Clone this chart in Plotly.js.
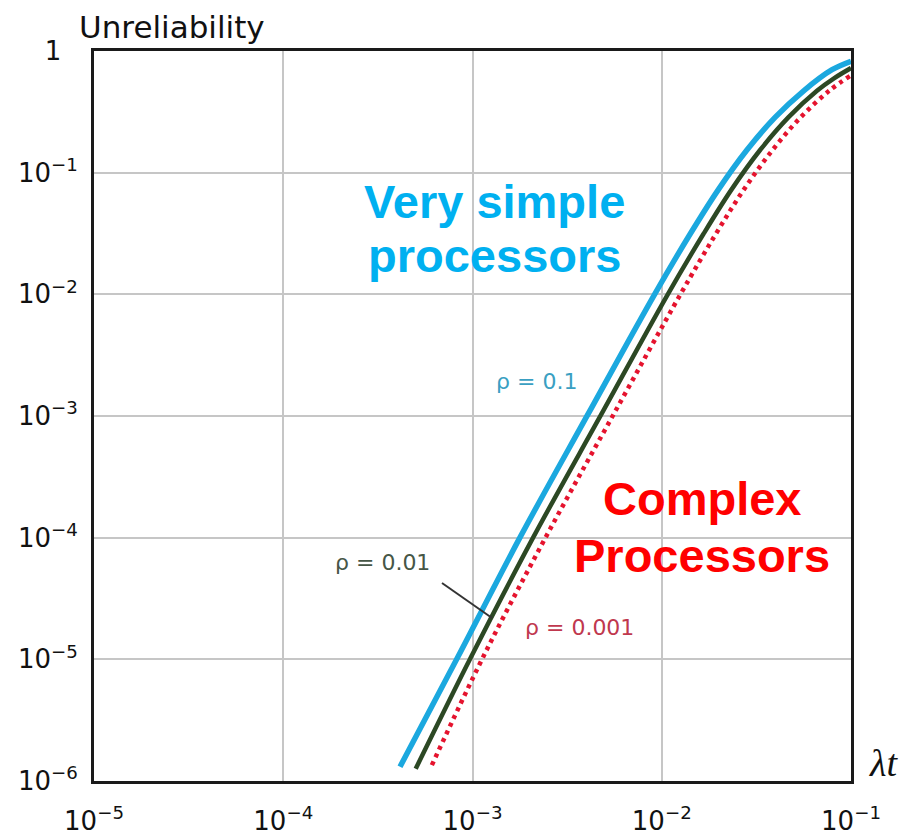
<!DOCTYPE html>
<html>
<head>
<meta charset="utf-8">
<script src="https://cdn.plot.ly/plotly-3.0.1.min.js"></script>
<style>html,body{margin:0;padding:0;background:#fff;}#chart{width:921px;height:836px;}</style>
</head>
<body>
<div id="chart"></div>
<script>
// λt values and unreliability values
const blueX = [4.14e-4, 8.38e-4, 1.78e-3, 4.07e-3, 9.20e-3, 1.413e-2, 1.995e-2, 2.818e-2, 3.981e-2, 5.623e-2, 7.943e-2, 0.1];
const blueY = [1.31e-6, 1.05e-5, 1.00e-4, 1.03e-3, 1.01e-2, 3.13e-2, 7.29e-2, 0.1535, 0.2858, 0.471, 0.7015, 0.824];

const greenX = [5.01e-4, 9.84e-4, 2.09e-3, 4.79e-3, 1.08e-2, 1.66e-2, 2.34e-2, 3.31e-2, 4.68e-2, 6.61e-2, 8.13e-2, 0.1];
const greenY = [1.26e-6, 1.05e-5, 1.00e-4, 1.03e-3, 1.01e-2, 3.13e-2, 7.29e-2, 0.1535, 0.2858, 0.471, 0.596, 0.724];

const redX = [6.10e-4, 1.14e-3, 2.43e-3, 5.56e-3, 1.26e-2, 1.93e-2, 2.72e-2, 3.85e-2, 5.43e-2, 7.67e-2, 0.1];
const redY = [1.35e-6, 1.05e-5, 1.00e-4, 1.03e-3, 1.01e-2, 3.13e-2, 7.29e-2, 0.1535, 0.2858, 0.471, 0.631];

const xTickVals = [1e-5, 1e-4, 1e-3, 1e-2, 1e-1];
const xTickText = ['10<sup>−5</sup>', '10<sup>−4</sup>', '10<sup>−3</sup>', '10<sup>−2</sup>', '10<sup>−1</sup>'];
const yTickVals = [1e-6, 1e-5, 1e-4, 1e-3, 1e-2, 1e-1, 1];
const yTickText = ['10<sup>−6</sup>', '10<sup>−5</sup>', '10<sup>−4</sup>', '10<sup>−3</sup>', '10<sup>−2</sup>', '10<sup>−1</sup>', '1\u2007'];

const yAxisTitle = 'Unreliability';
const xAxisTitle = 'λt';
const seriesNames = ['ρ = 0.1', 'ρ = 0.01', 'ρ = 0.001'];
const bigLabels = ['Very simple', 'processors', 'Complex', 'Processors'];

const traces = [
  {x: redX, y: redY, mode: 'lines', name: seriesNames[2], line: {color: '#e5132e', width: 4.5, dash: '4px,4.5px', shape: 'spline'}},
  {x: greenX, y: greenY, mode: 'lines', name: seriesNames[1], line: {color: '#2c4824', width: 4.5, shape: 'spline'}},
  {x: blueX, y: blueY, mode: 'lines', name: seriesNames[0], line: {color: '#1ba8df', width: 5.5, shape: 'spline'}}
];

const tickFont = {family: 'DejaVu Sans', size: 26, color: '#111'};
const bigFont = (c) => ({family: 'Liberation Sans, Arial', size: 47, color: c, weight: 'bold'});

const layout = {
  width: 921, height: 836,
  margin: {l: 94, r: 70, t: 51, b: 55},
  paper_bgcolor: '#fff', plot_bgcolor: '#fff',
  showlegend: false,
  xaxis: {
    type: 'log', range: [-5, -1],
    tickvals: xTickVals, ticktext: xTickText, tickfont: tickFont,
    ticks: '', ticklabelstandoff: 15,
    showgrid: true, gridcolor: '#c6c6c6', gridwidth: 2,
    showline: true, linecolor: '#1a1a1a', linewidth: 3, mirror: true,
    zeroline: false
  },
  yaxis: {
    type: 'log', range: [-6, 0],
    tickvals: yTickVals, ticktext: yTickText, tickfont: tickFont,
    ticks: '', ticklabelstandoff: 8,
    showgrid: true, gridcolor: '#c6c6c6', gridwidth: 2,
    showline: true, linecolor: '#1a1a1a', linewidth: 3, mirror: true,
    zeroline: false
  },
  annotations: [
    {text: yAxisTitle, xref: 'paper', yref: 'paper', x: -0.023, y: 1.0, xanchor: 'left', yanchor: 'bottom', yshift: 4,
     showarrow: false, font: {family: 'DejaVu Sans', size: 31, color: '#111'}},
    {text: xAxisTitle, xref: 'paper', yref: 'paper', x: 1.0, y: 0.0, xanchor: 'left', yanchor: 'middle', xshift: 16, yshift: 18,
     showarrow: false, font: {family: 'Liberation Serif', size: 38, color: '#111', style: 'italic'}},
    {text: bigLabels[0], xref: 'x', yref: 'y', x: -2.886, y: -1.233, showarrow: false, font: bigFont('#00b0f0')},
    {text: bigLabels[1], xref: 'x', yref: 'y', x: -2.886, y: -1.684, showarrow: false, font: bigFont('#00b0f0')},
    {text: bigLabels[2], xref: 'x', yref: 'y', x: -1.787, y: -3.681, showarrow: false, font: bigFont('#ff0000')},
    {text: bigLabels[3], xref: 'x', yref: 'y', x: -1.787, y: -4.150, showarrow: false, font: bigFont('#ff0000')},
    {text: seriesNames[0], xref: 'x', yref: 'y', x: -2.664, y: -2.72, showarrow: false,
     font: {family: 'DejaVu Sans', size: 22, color: '#3a9fc2'}},
    {text: seriesNames[1], xref: 'x', yref: 'y', x: -3.473, y: -4.207, showarrow: false,
     font: {family: 'DejaVu Sans', size: 22, color: '#465646'}},
    {text: seriesNames[2], xref: 'x', yref: 'y', x: -2.437, y: -4.741, showarrow: false,
     font: {family: 'DejaVu Sans', size: 22, color: '#c0384e'}}
  ],
  shapes: [
    {type: 'line', xref: 'paper', yref: 'paper', x0: 0.4597, y0: 0.2712, x1: 0.5258, y1: 0.2233,
     line: {color: '#333', width: 2}}
  ]
};

Plotly.newPlot('chart', traces, layout, {displayModeBar: false, staticPlot: true});
</script>
</body>
</html>
